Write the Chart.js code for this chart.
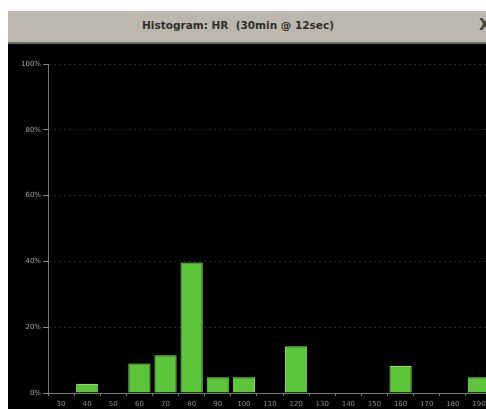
<!DOCTYPE html>
<html><head><meta charset="utf-8">
<script src="https://cdn.jsdelivr.net/npm/chart.js@4"></script>
<style>
html,body{margin:0;padding:0;background:#fff;width:486px;height:409px;overflow:hidden;position:relative;font-family:"DejaVu Sans",sans-serif;}
#bar{position:absolute;left:8px;top:11px;width:490px;height:31px;background:#bdb8ad;border-bottom:2px solid #6a6a66;}
#ttl{position:absolute;left:120px;top:8px;width:220px;text-align:center;font-size:10.5px;font-weight:bold;color:#2e2e2b;}
#cls{position:absolute;left:471px;top:5px;font-size:15px;font-weight:bold;color:#444;}
#wrap{position:absolute;left:8px;top:44px;width:484px;height:365px;background:#000;}
</style></head>
<body>
<div id="bar"><div id="ttl">Histogram: HR&nbsp; (30min @ 12sec)</div><div id="cls">X</div></div>
<div id="wrap"><canvas id="c" width="484" height="365"></canvas></div>
<script>
const categories = ["30","40","50","60","70","80","90","100","110","120","130","140","150","160","170","180","190"];
const percentValues = [0, 2.7, 0, 9, 11.5, 39.7, 4.8, 4.8, 0, 14.2, 0, 0, 0, 8.2, 0, 0, 4.8];
const yTickLabels = ["0%","20%","40%","60%","80%","100%"];

new Chart(document.getElementById('c'), {
  type: 'bar',
  data: {
    labels: categories,
    datasets: [{
      data: percentValues,
      backgroundColor: '#5cc63a',
      borderColor: '#8fe06a',
      borderWidth: 1,
      barPercentage: 1,
      categoryPercentage: 0.85
    }]
  },
  options: {
    responsive: false,
    animation: false,
    layout: { padding: { top: 20, right: 0, left: 0, bottom: 0 } },
    plugins: { legend: { display: false }, tooltip: { enabled: false } },
    scales: {
      x: {
        grid: { display: true, drawOnChartArea: false, drawTicks: true, tickLength: 3, color: '#777', offset: true },
        border: { color: '#777', width: 1 },
        ticks: { color: '#8a8a8a', font: { size: 7, family: 'DejaVu Sans' }, padding: 4, maxRotation: 0, autoSkip: false },
        afterFit: s => { s.height = 16; }
      },
      y: {
        min: 0, max: 100,
        ticks: {
          stepSize: 20,
          color: '#a0a0a0',
          font: { size: 7, family: 'DejaVu Sans' },
          padding: 2,
          callback: (v) => yTickLabels[Math.round(v / 20)]
        },
        grid: { color: 'rgba(70,80,120,0.5)', tickLength: 5, tickColor: '#888', tickBorderDash: [] },
        border: { color: '#777', width: 1, dash: [2, 3] },
        afterFit: s => { s.width = 40; }
      }
    }
  }
});
</script>
</body></html>
